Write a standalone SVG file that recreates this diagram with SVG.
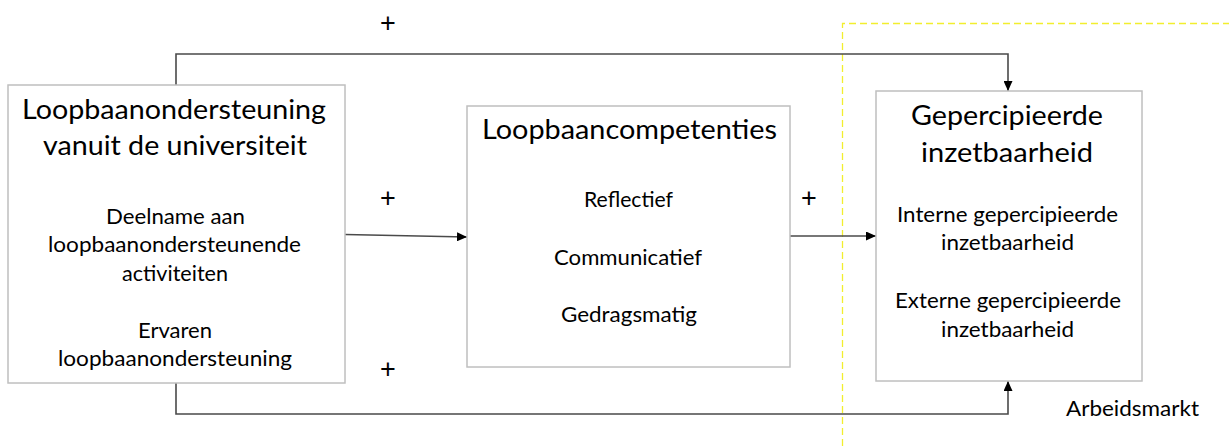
<svg xmlns="http://www.w3.org/2000/svg" width="1229" height="446" viewBox="0 0 1229 446">
<style>
.box{fill:#fff;stroke:#bfbfbf;stroke-width:1.5}
.con{fill:none;stroke:#4a4a4a;stroke-width:1.6}
text{font-family:Lato,"Open Sans","Liberation Sans",sans-serif;fill:#000}
.t{font-size:26px}
.b{font-size:20.5px}
.p{font-family:"Liberation Sans",Arial,sans-serif;font-size:27px;text-anchor:middle}
</style>
<defs>
<marker id="ah" viewBox="0 0 10 9" refX="10" refY="4.5" markerWidth="10" markerHeight="9" markerUnits="userSpaceOnUse" orient="auto">
<path d="M0,0 L10,4.5 L0,9 Z" fill="#000"/>
</marker>
</defs>
<rect width="1229" height="446" fill="#fff"/>
<g id="arbeidsmarkt-zone">
<path d="M842.5,446 L842.5,23.5 L1229,23.5" fill="none" stroke="#f2ee2e" stroke-width="1.3" stroke-dasharray="7,4"/>
</g>
<g id="connectors">
<path class="con" d="M176,85 L176,54 L1008,54 L1008,91" marker-end="url(#ah)"/>
<path class="con" d="M176,383 L176,414 L1008,414 L1008,381" marker-end="url(#ah)"/>
<path class="con" d="M345,234.5 L467,237" marker-end="url(#ah)"/>
<path class="con" d="M790,236 L876,236" marker-end="url(#ah)"/>
<text class="p" x="388" y="32">+</text>
<text class="p" x="388" y="207">+</text>
<text class="p" x="388" y="378">+</text>
<text class="p" x="809" y="207">+</text>
</g>
<g id="node-ondersteuning">
<rect class="box" x="8" y="85" width="337" height="298"/>
<text class="t" x="22" y="119" textLength="304" lengthAdjust="spacingAndGlyphs">Loopbaanondersteuning</text>
<text class="t" x="43" y="155" textLength="264" lengthAdjust="spacingAndGlyphs">vanuit de universiteit</text>
<text class="b" x="106" y="224" textLength="139" lengthAdjust="spacingAndGlyphs">Deelname aan</text>
<text class="b" x="48" y="252" textLength="253" lengthAdjust="spacingAndGlyphs">loopbaanondersteunende</text>
<text class="b" x="122" y="281" textLength="106" lengthAdjust="spacingAndGlyphs">activiteiten</text>
<text class="b" x="138" y="338" textLength="74" lengthAdjust="spacingAndGlyphs">Ervaren</text>
<text class="b" x="58" y="366" textLength="234" lengthAdjust="spacingAndGlyphs">loopbaanondersteuning</text>
</g>
<g id="node-competenties">
<rect class="box" x="467" y="106" width="323" height="261"/>
<text class="t" x="482" y="139" textLength="295" lengthAdjust="spacingAndGlyphs">Loopbaancompetenties</text>
<text class="b" x="584" y="207" textLength="89" lengthAdjust="spacingAndGlyphs">Reflectief</text>
<text class="b" x="554" y="265" textLength="148" lengthAdjust="spacingAndGlyphs">Communicatief</text>
<text class="b" x="561" y="322" textLength="136" lengthAdjust="spacingAndGlyphs">Gedragsmatig</text>
</g>
<g id="node-inzetbaarheid">
<rect class="box" x="876" y="91" width="266" height="290"/>
<text class="t" x="911" y="125" textLength="192" lengthAdjust="spacingAndGlyphs">Gepercipieerde</text>
<text class="t" x="921" y="162" textLength="172" lengthAdjust="spacingAndGlyphs">inzetbaarheid</text>
<text class="b" x="897" y="222" textLength="221" lengthAdjust="spacingAndGlyphs">Interne gepercipieerde</text>
<text class="b" x="941" y="250" textLength="133" lengthAdjust="spacingAndGlyphs">inzetbaarheid</text>
<text class="b" x="895" y="308" textLength="226" lengthAdjust="spacingAndGlyphs">Externe gepercipieerde</text>
<text class="b" x="941" y="337" textLength="133" lengthAdjust="spacingAndGlyphs">inzetbaarheid</text>
</g>
<g id="label-arbeidsmarkt">
<text class="b" x="1066" y="416" textLength="133" lengthAdjust="spacingAndGlyphs">Arbeidsmarkt</text>
</g>
</svg>
